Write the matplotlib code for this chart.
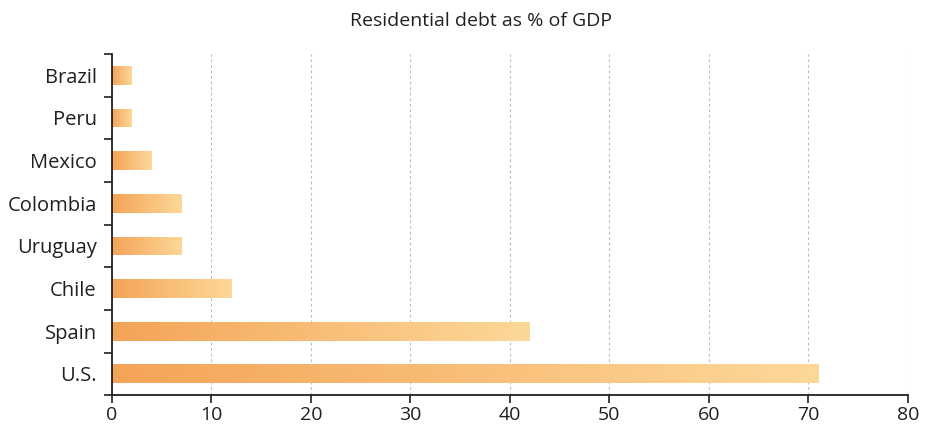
"""Horizontal bar chart: residential debt as % of GDP, gradient bars."""
import numpy as np
import matplotlib
matplotlib.use('Agg')
import matplotlib.pyplot as plt
from matplotlib.colors import LinearSegmentedColormap

plt.rcParams.update({
    'font.family': ['Open Sans', 'DejaVu Sans'],
    'font.size': 14,
    'text.color': '#231f20',
    'xtick.color': '#231f20',
    'ytick.color': '#231f20',
})

countries = ['Brazil', 'Peru', 'Mexico', 'Colombia', 'Uruguay', 'Chile', 'Spain', 'U.S.']
debt = [2, 2, 4, 7, 7, 12, 42, 71]
xticks = [0, 10, 20, 30, 40, 50, 60, 70, 80]
title = 'Residential debt as % of GDP'

cmap = LinearSegmentedColormap.from_list('bar', ['#f4a458', '#fdd898'])
grad = np.linspace(0, 1, 256).reshape(1, -1)

fig = plt.figure(figsize=(9.25, 4.3), dpi=100)
ax = fig.add_axes([0.121, 0.081, 0.8605, 0.7935])

ypos = np.arange(len(countries))
bars = ax.barh(ypos, debt, height=0.44, color='none', edgecolor='none')
for b in bars:
    x0, y0 = b.get_x(), b.get_y()
    im = ax.imshow(grad, cmap=cmap, aspect='auto', interpolation='bicubic',
                   extent=[x0, x0 + b.get_width(), y0, y0 + b.get_height()],
                   zorder=2)
    im.set_clip_path(b)

ax.set_xlim(0, 80)
ax.set_ylim(len(countries) - 0.5, -0.5)
ax.set_xticks(xticks)
ax.set_yticks(ypos)
ax.set_yticklabels(countries)
ax.set_yticks(np.arange(len(countries) + 1) - 0.5, minor=True)
ax.tick_params(axis='y', which='major', length=0, pad=11, labelsize=14.5)
ax.tick_params(axis='y', which='minor', length=6, width=1.2, direction='out')
ax.tick_params(axis='x', length=6, width=1.2, direction='out', pad=2, labelsize=14)

ax.xaxis.grid(True, color='#bdbdbd', linewidth=0.8, linestyle=(0, (2.5, 2.5)))
ax.set_axisbelow(True)
for s in ['top', 'right']:
    ax.spines[s].set_visible(False)
for s in ['left', 'bottom']:
    ax.spines[s].set_linewidth(1.3)
    ax.spines[s].set_color('#231f20')

fig.text(0.52, 0.952, title, ha='center', va='center', fontsize=14)

fig.savefig('out.png', dpi=100)
